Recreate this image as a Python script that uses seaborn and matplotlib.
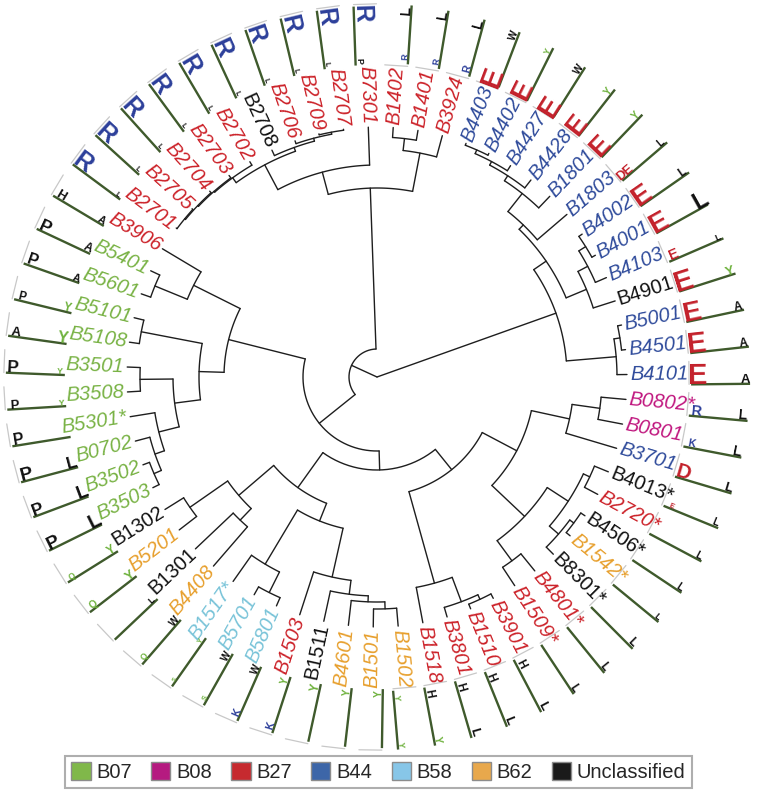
import numpy as np
import pandas as pd
import matplotlib
matplotlib.use("Agg")
import matplotlib.pyplot as plt
from matplotlib.patches import Patch
import seaborn as sns

# leaves, clockwise starting at B4403
leaf_names = ["B4403", "B4402", "B4427", "B4428", "B1801", "B1803", "B4002", "B4001", "B4103",
              "B4901", "B5001", "B4501", "B4101",
              "B0802*", "B0801", "B3701", "B4013*", "B2720*", "B4506*", "B1542*", "B8301*",
              "B4801*", "B1509*", "B3901", "B1510", "B3801", "B1518",
              "B1502", "B1501", "B4601", "B1511", "B1503", "B5801", "B5701", "B1517*", "B4408",
              "B1301", "B5201", "B1302",
              "B3503", "B3502", "B0702", "B5301*", "B3508", "B3501", "B5108", "B5101", "B5601",
              "B5401", "B3906",
              "B2701", "B2705", "B2704", "B2703", "B2702", "B2708", "B2706", "B2709", "B2707",
              "B7301", "B1402", "B1401", "B3924"]
leaf_group = ["B44"] * 9 + ["Unc", "B44", "B44", "B44",
              "B08", "B08", "B44", "Unc", "B27", "Unc", "B62", "Unc",
              "B27", "B27", "B27", "B27", "B27", "B27",
              "B62", "B62", "B62", "Unc", "B27", "B58", "B58", "B58", "B62",
              "Unc", "B62", "Unc"] + ["B07"] * 10 + ["B27"] + \
             ["B27"] * 5 + ["Unc", "B27", "B27", "B27"] + ["B27"] * 4

# tree merges (bottom-up), depth = node radius / leaf radius
merge_name = ["q1", "q2", "q3", "q4", "Q", "p1", "p2", "P", "O", "n1", "N", "R1",
              "wa", "W", "ya", "yb1", "yb", "Y", "Z", "X", "V", "u2a", "U2", "U", "L",
              "k6a", "K6", "K5", "K4", "k3a", "K3", "K2", "K7", "K8", "K1", "K", "J",
              "h7a", "H7", "H6", "H5", "H4", "H3", "H2", "G", "F", "H", "I",
              "m1", "m2", "m3", "m4", "m5", "m6", "m7", "E", "D", "B14a", "B14", "C",
              "A", "root"]
merge_left = ["B4403", "q1", "q2", "q3", "q4", "B4002", "p1", "p2", "Q", "B5001", "n1", "O",
              "B0802*", "wa", "B4013*", "B4506*", "yb1", "ya", "B4801*", "Y", "W",
              "B1510", "B3801", "B1518", "V",
              "B1501", "B4601", "B1511", "B1503", "B5701", "B1517*", "K3", "B1302", "B1301",
              "K7", "K1", "K",
              "B3502", "B0702", "B5301*", "B3501", "H5", "B5101", "H3", "B5401", "B3906", "F",
              "H",
              "B2701", "m1", "m2", "m3", "B2709", "B2706", "B2708", "m4", "E", "B1402", "B14a",
              "D", "I", "R1"]
merge_right = ["B4402", "B4427", "B4428", "B1801", "B1803", "B4001", "B4103", "B4901", "P",
               "B4501", "B4101", "N",
               "B0801", "B3701", "B2720*", "B1542*", "B8301*", "yb", "B1509*", "Z", "X",
               "B3901", "u2a", "U2", "U",
               "B1502", "k6a", "K6", "K5", "B5801", "k3a", "K4", "B5201", "B4408", "K8", "K2",
               "L",
               "B3503", "h7a", "H7", "B3508", "H6", "B5108", "H4", "B5601", "G", "H2", "J",
               "B2705", "B2704", "B2703", "B2702", "B2707", "m5", "m6", "m7", "B7301", "B1401",
               "B3924", "B14", "C", "A"]
merge_depth = [0.992, 0.976, 0.960, 0.936, 0.844, 0.984, 0.952, 0.908, 0.820, 0.984, 0.960, 0.760,
               0.900, 0.788, 0.940, 0.980, 0.960, 0.912, 0.912, 0.812, 0.632, 0.980, 0.960, 0.856,
               0.476,
               0.928, 0.900, 0.876, 0.820, 0.964, 0.872, 0.620, 0.912, 0.792, 0.728, 0.544, 0.372,
               0.972, 0.940, 0.900, 0.948, 0.816, 0.960, 0.712, 0.960, 0.820, 0.612, 0.296,
               0.996, 0.992, 0.988, 0.984, 0.996, 0.988, 0.976, 0.960, 0.848, 0.960, 0.912, 0.756,
               0.112, 0.0]

# sequence logo summary: first (P2) and last (P9) letters with relative height
logo_first = ["E", "E", "E", "E", "E", "DE", "E", "E", "E", "E", "E", "E", "E",
              "R", "K", "D", "E", "", "", "", "", "", "", "H", "H", "H", "H",
              "Y", "", "", "", "K", "K", "S", "S", "Q", "", "Q", "Q",
              "P", "P", "P", "P", "P", "P", "A", "P", "P", "P", "H",
              "R", "R", "R", "R", "R", "R", "R", "R", "R", "R", "R", "R", "R"]
logo_first_h = [1.0, 0.95, 1.0, 0.95, 0.95, 0.45, 0.95, 0.95, 0.5, 1.0, 0.95, 1.0, 1.0,
                0.5, 0.35, 0.7, 0.25, 0, 0, 0, 0, 0, 0, 0.4, 0.4, 0.4, 0.4,
                0.3, 0, 0, 0, 0.35, 0.35, 0.25, 0.2, 0.3, 0, 0.35, 0.3,
                0.65, 0.6, 0.65, 0.55, 0.45, 0.6, 0.45, 0.4, 0.55, 0.6, 0.45,
                0.85, 0.85, 0.85, 0.85, 0.85, 0.85, 0.85, 0.85, 0.85, 0.85, 0.3, 0.3, 0.35]
logo_last = ["W", "Y", "W", "Y", "Y", "L", "L", "L", "L", "Y", "A", "A", "A",
             "L", "L", "L", "L", "L", "L", "L", "L", "L", "L", "L", "L", "L", "Y",
             "Y", "Y", "Y", "Y", "Y", "W", "W", "Y", "W", "L", "Y", "Y",
             "L", "L", "L", "", "Y", "Y", "Y", "Y", "A", "A", "A",
             "L", "L", "L", "L", "L", "L", "L", "L", "L", "P", "L", "L", "L"]
logo_last_h = [0.35, 0.3, 0.35, 0.35, 0.35, 0.35, 0.4, 0.8, 0.3, 0.45, 0.4, 0.4, 0.45,
               0.5, 0.5, 0.45, 0.35, 0.35, 0.35, 0.3, 0.4, 0.4, 0.4, 0.45, 0.45, 0.45, 0.35,
               0.3, 0.35, 0.35, 0.4, 0.35, 0.35, 0.35, 0.25, 0.35, 0.3, 0.45, 0.4,
               0.7, 0.65, 0.6, 0, 0.3, 0.3, 0.55, 0.4, 0.35, 0.4, 0.35,
               0.25, 0.25, 0.25, 0.25, 0.25, 0.25, 0.25, 0.25, 0.25, 0.3, 0.5, 0.5, 0.5]

supertypes = ["B07", "B08", "B27", "B44", "B58", "B62", "Unclassified"]
legend_colors = ["#80b84a", "#b51a80", "#c62a2f", "#3d66a8", "#87c6e8", "#e8a84c", "#1a1a1a"]
label_colors = {"B07": "#78b244", "B08": "#c0177f", "B27": "#cc2229", "B44": "#2f4b9b",
                "B58": "#78c3d8", "B62": "#e79f2c", "Unc": "#111111"}
letter_colors = {"R": "#2c3f9a", "K": "#2c3f9a", "D": "#c3202a", "E": "#c3202a", "DE": "#c3202a",
                 "Y": "#6fb23e", "Q": "#6fb23e", "S": "#6fb23e"}

sns.set_theme(style="white")
plt.rcParams["font.family"] = ["Liberation Sans", "DejaVu Sans"]

CX, CY = 377, 431
R_LEAF = 250
R_LABEL = 253
R_LOGO_IN, R_LOGO_OUT = 312, 373
LOGO_H = 21

step = 360 / len(leaf_names)
angle = {n: 69.14 - i * step for i, n in enumerate(leaf_names)}
radius = {n: R_LEAF for n in leaf_names}
children = {}
for nm, l, r, d in zip(merge_name, merge_left, merge_right, merge_depth):
    children[nm] = (l, r)
    angle[nm] = (angle[l] + angle[r]) / 2
    radius[nm] = d * R_LEAF


def pt(r, a):
    t = np.radians(a)
    return CX + r * np.cos(t), CY + r * np.sin(t)


rows = []
seg = 0
for nm in merge_name:
    l, r = children[nm]
    rn = radius[nm]
    a0, a1 = sorted([angle[l], angle[r]])
    for a in np.linspace(a0, a1, int((a1 - a0) * 2) + 2):
        x, y = pt(rn, a)
        rows.append((seg, x, y))
    seg += 1
    for c in (l, r):
        for rr in (rn, radius[c]):
            x, y = pt(rr, angle[c])
            rows.append((seg, x, y))
        seg += 1
branches = pd.DataFrame(rows, columns=["seg", "x", "y"])

fig = plt.figure(figsize=(7.58, 8.08), dpi=100)
ax = fig.add_axes([0, 0, 1, 1])
sns.lineplot(data=branches, x="x", y="y", units="seg", estimator=None, sort=False,
             color="#1e1e1e", linewidth=1.0, ax=ax, legend=False)

for i, nm in enumerate(leaf_names):
    a = angle[nm]
    an = a % 360
    left = 90 < an < 270
    rot = an - 180 if left else (an if an <= 90 else an - 360)
    grp = leaf_group[i]
    x, y = pt(R_LABEL, a)
    ax.text(x, y, nm, rotation=rot, rotation_mode="anchor",
            ha="right" if left else "left", va="center", fontsize=14.5,
            color=label_colors[grp], style="normal" if grp == "Unc" else "italic")

    # logo frame: u = reading direction, v = up direction
    e = np.array([np.cos(np.radians(a)), np.sin(np.radians(a))])
    if left:
        start = np.array(pt(R_LOGO_OUT, a))
        u = -e
    else:
        start = np.array(pt(R_LOGO_IN, a))
        u = e
    v = np.array([-u[1], u[0]])
    W = R_LOGO_OUT - R_LOGO_IN
    base = start - v * (LOGO_H / 2)
    p0, p1 = base, base + v * (LOGO_H + 2)
    ax.plot([p0[0], p1[0]], [p0[1], p1[1]], color="#c8c8c8", lw=0.9)
    q0, q1 = base + u * 2, base + u * W
    ax.plot([q0[0], q1[0]], [q0[1], q1[1]], color="#3f5a2c", lw=1.7, solid_capstyle="butt")
    for letter, h, s in ((logo_first[i], logo_first_h[i], 0.15),
                         (logo_last[i], logo_last_h[i], 0.92)):
        if not letter:
            continue
        px, py = base + u * (s * W) + v * 0.8
        ax.text(px, py, letter, rotation=rot, rotation_mode="anchor", ha="center",
                va="baseline", fontsize=LOGO_H * h, fontweight="bold",
                color=letter_colors.get(letter, "#111111"))

handles = [Patch(facecolor=c, edgecolor="#8c8c8c", label=s)
           for s, c in zip(supertypes, legend_colors)]
leg = fig.legend(handles=handles, loc="lower center", bbox_to_anchor=(0.4993, 0.0124),
                 ncol=7, frameon=True, fancybox=False, edgecolor="#9a9a9a", fontsize=14.5,
                 handlelength=0.95, handleheight=0.95, handletextpad=0.3,
                 columnspacing=0.95, borderpad=0.3)
leg.get_frame().set_linewidth(1.5)

ax.set_xlim(0, 758)
ax.set_ylim(0, 808)
ax.axis("off")
fig.savefig("out.png", dpi=100)
